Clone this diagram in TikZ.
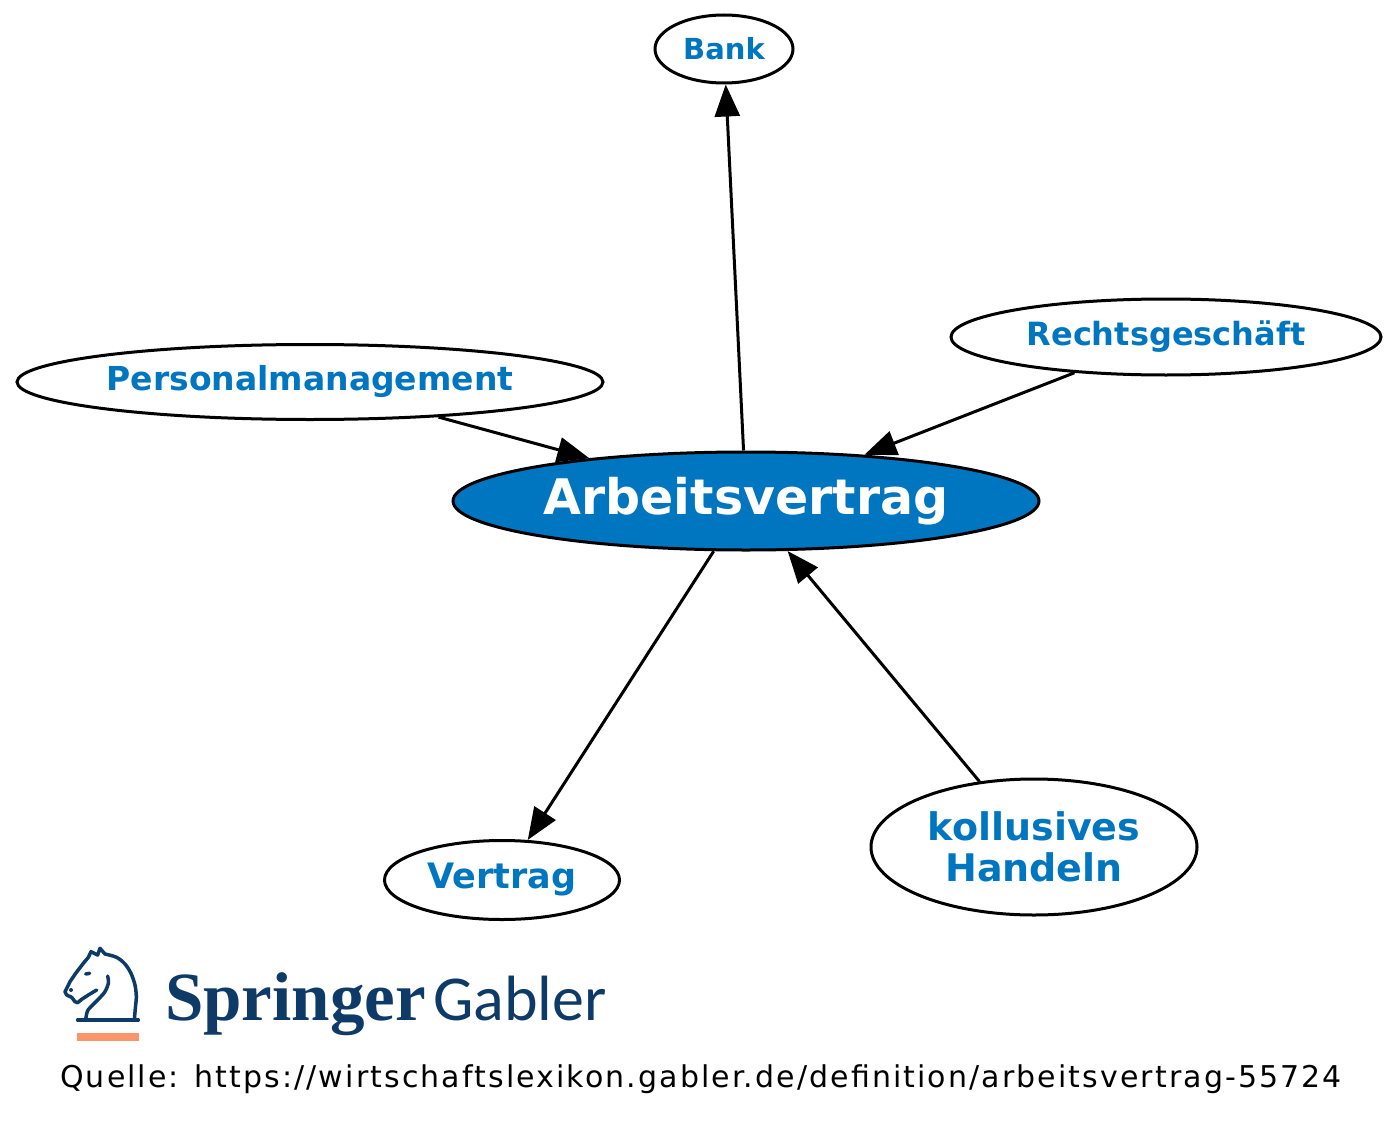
\documentclass[tikz,border=0pt]{standalone}
\usepackage{fontspec}
\setmainfont{DejaVu Sans}
\newfontfamily\springerfont{Liberation Serif}
\newfontfamily\gablerfont{Carlito}
\newfontfamily\spacedfont[LetterSpace=7]{DejaVu Sans}
\usepackage{tikz}
\usetikzlibrary{shapes.geometric, arrows.meta, positioning}
\tikzset{
  term/.style = {draw, ellipse, line width=3pt, inner sep=0pt, align=center},
  arrow/.style = {-{Triangle[length=32pt, width=25pt]}, line width=3pt}
}

\begin{document}
\begin{tikzpicture}[x=1pt, y=-1pt]
  \definecolor{gablerBlue}{RGB}{0,118,192}
  \definecolor{springerNavy}{RGB}{14,58,104}
  \definecolor{springerOrange}{RGB}{250,150,105}
  \tikzset{
    termText/.style={fill=white, text=gablerBlue},
    logoLine/.style={draw=springerNavy, line width=3.5pt, line join=round, line cap=round}
  }

  \fill[white] (0,0) rectangle (1400,1137);
  \useasboundingbox (0,0) rectangle (1400,1137);

  \node[term, fill=gablerBlue, text=white, minimum width=586pt, minimum height=98pt,
        font=\bfseries\fontsize{49}{53}\selectfont] (arbeit) at (746,501) {Arbeitsvertrag};

  \node[term, termText, minimum width=138pt, minimum height=68pt,
        font=\bfseries\fontsize{29}{33}\selectfont] (bank) at (724,49) {Bank};
  \node[term, termText, minimum width=430pt, minimum height=76pt,
        font=\bfseries\fontsize{32}{36}\selectfont] (recht) at (1166,337) {Rechtsgeschäft};
  \node[term, termText, minimum width=586pt, minimum height=75pt,
        font=\bfseries\fontsize{33}{37}\selectfont] (personal) at (310,382) {Personalmanagement};
  \node[term, termText, minimum width=235pt, minimum height=79pt,
        font=\bfseries\fontsize{35}{39}\selectfont] (vertrag) at (502,880) {Vertrag};
  \node[term, termText, minimum width=326pt, minimum height=136pt,
        font=\bfseries\fontsize{38}{41}\selectfont] (kollusiv) at (1034,847) {kollusives\\Handeln};

  \draw[arrow] (arbeit) -- (bank);
  \draw[arrow] (recht) -- (arbeit);
  \draw[arrow] (personal) -- (arbeit);
  \draw[arrow] (arbeit) -- (vertrag);
  \draw[arrow] (kollusiv) -- (arbeit);

  \begin{scope}[shift={(55,940)}, x=0.3333pt, y=-0.3333pt]
    \draw[logoLine] (68,240) -- (250,240);
    \draw[logoLine] plot[smooth] coordinates {(238,240) (241,205) (244,170) (240,135)
      (228,100) (210,72) (185,52) (150,42)} -- (135,25) -- (128,45) -- (108,35) -- (100,52)
      -- (85,70) -- (62,100) -- (45,125) -- (30,155) -- (35,165) -- (50,172) -- (60,185)
      -- (68,188) -- (80,178) -- (100,165) -- (125,150);
    \draw[logoLine] plot[smooth] coordinates {(158,108) (160,130) (148,158) (118,190)
      (98,212) (92,240)};
    \draw[logoLine] (92,102) -- (104,100);
    \fill[springerNavy] (48,150) circle (6);
    \fill[springerOrange] (67,280) rectangle (252,302);
  \end{scope}
  \node[anchor=base west, inner sep=0pt, text=springerNavy,
        font=\springerfont\bfseries\fontsize{69}{70}\selectfont] (springer) at (165,1020) {Springer};
  \node[anchor=base west, inner sep=0pt, text=springerNavy,
        font=\gablerfont\fontsize{64}{66}\selectfont] (gabler) at (433,1020) {Gabler};

  \node[anchor=base west, inner sep=0pt,
        font=\spacedfont\fontsize{30}{34}\selectfont] (quelle) at (60,1087)
        {Quelle: https://wirtschaftslexikon.gabler.de/definition/arbeitsvertrag-55724};
\end{tikzpicture}
\end{document}
